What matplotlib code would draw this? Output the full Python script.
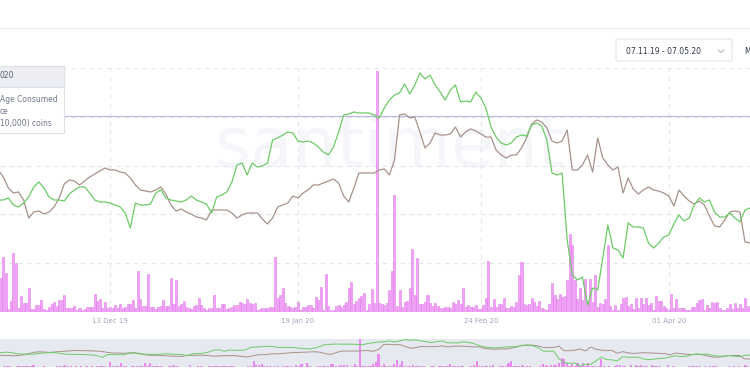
import matplotlib
matplotlib.use("Agg")
import matplotlib.pyplot as plt
import matplotlib.patches as mpatches
from matplotlib.lines import Line2D
import numpy as np
import pandas as pd

# daily series, 21 Nov 2019 .. 17 Apr 2020 (arbitrary units)
holders = [112, 112, 114, 107, 105, 109, 115, 125, 130, 124,
           115, 112, 112, 111, 118, 122, 125, 125, 119, 112,
           110, 110, 109, 107, 105, 99, 84, 109, 107, 107,
           108, 119, 122, 114, 112, 111, 110, 112, 116, 112,
           110, 108, 99, 115, 117, 120, 130, 147, 149, 137,
           149, 145, 146, 149, 172, 174, 177, 180, 179, 171,
           170, 171, 169, 165, 160, 157, 165, 180, 197, 198,
           200, 199, 199, 199, 197, 194, 204, 212, 217, 219,
           228, 218, 227, 239, 233, 237, 227, 220, 212, 222,
           227, 210, 211, 210, 220, 214, 204, 185, 175, 169,
           167, 169, 175, 177, 176, 187, 189, 186, 172, 139,
           137, 139, 72, 37, 32, 35, 7, 24, 22, 54,
           87, 64, 62, 54, 89, 85, 85, 84, 69, 64,
           69, 75, 77, 88, 97, 91, 94, 107, 114, 110,
           112, 100, 95, 95, 99, 94, 90, 102, 104]

price = [142, 135, 124, 119, 120, 112, 94, 100, 101, 98,
         100, 105, 114, 128, 132, 131, 127, 131, 135, 138,
         141, 144, 142, 142, 140, 139, 134, 127, 122, 121,
         120, 122, 125, 118, 107, 101, 103, 100, 98, 95,
         94, 92, 102, 102, 102, 102, 99, 94, 97, 99,
         99, 99, 93, 88, 94, 105, 107, 109, 116, 114,
         119, 122, 127, 127, 129, 131, 133, 129, 116, 110,
         124, 139, 139, 139, 139, 142, 143, 137, 152, 197,
         198, 194, 195, 180, 164, 169, 179, 177, 177, 178,
         185, 175, 180, 183, 181, 178, 175, 175, 162, 157,
         154, 157, 157, 164, 174, 188, 192, 190, 184, 171,
         169, 171, 182, 142, 142, 147, 157, 140, 174, 154,
         147, 142, 145, 119, 134, 123, 118, 122, 125, 122,
         121, 119, 116, 106, 122, 116, 111, 108, 111, 107,
         96, 86, 85, 92, 100, 101, 100, 70, 69]

# 12h bars
age_consumed = [34, 55, 39, 3, 11, 59, 49, 4, 16, 9, 9, 24, 3, 3, 7, 7, 12, 3, 2, 5,
                8, 10, 6, 12, 12, 17, 4, 4, 4, 6, 2, 4, 2, 3, 5, 5, 5, 18, 11, 13,
                4, 10, 4, 5, 4, 7, 4, 8, 4, 5,
                8, 8, 12, 4, 41, 13, 6, 6, 38, 5, 5, 3, 5, 6, 12, 6, 6, 34, 8, 32,
                6, 8, 11, 5, 4, 3, 6, 7, 14, 7, 4, 2, 4, 4, 17, 4, 4, 8, 8, 3,
                4, 5, 7, 7, 10, 9, 8, 13, 9,
                8, 9, 2, 3, 4, 4, 4, 5, 5, 55, 14, 17, 24, 9, 6, 5, 4, 5, 10, 2,
                5, 5, 7, 7, 4, 15, 12, 25, 2, 38, 6, 2, 2, 6, 7, 5, 7, 10, 24, 30,
                8, 11, 14, 16, 19, 2, 8, 23, 9,
                241, 9, 8, 7, 9, 22, 41, 117, 6, 22, 5, 10, 11, 24, 63, 17, 54, 8, 8, 10,
                17, 9, 6, 9, 6, 4, 4, 5, 5, 4, 10, 8, 12, 8, 24, 5, 7, 5, 5, 7,
                3, 3, 7, 14, 51, 5, 13, 5, 8,
                8, 14, 4, 4, 6, 5, 10, 37, 50, 8, 7, 8, 14, 10, 6, 11, 4, 3, 2, 8,
                29, 17, 13, 18, 15, 16, 32, 78, 67, 32, 13, 24, 12, 33, 10, 33, 10, 37, 5, 9,
                8, 13, 67, 6, 2, 7, 2, 8, 14,
                15, 6, 8, 3, 14, 4, 14, 8, 14, 7, 9, 2, 16, 11, 11, 6, 4, 2, 18, 4,
                13, 4, 4, 4, 2, 2, 5, 5, 9, 12, 13, 2, 7, 4, 10, 9, 10, 4, 2, 2,
                4, 8, 3, 9, 4, 8, 4, 14, 6]

tick_dates = ["2019-12-13", "2020-01-19", "2020-02-24", "2020-04-01"]
tick_labels = ["13 Dec 19", "19 Jan 20", "24 Feb 20", "01 Apr 20"]

W, H = 750, 375
TOP = 244


def fbox(x0, y0, x1, y1):
    return [x0 / W, 1 - y1 / H, (x1 - x0) / W, (y1 - y0) / H]


def fxy(x, y):
    return x / W, 1 - y / H


days = pd.date_range("2019-11-21", periods=len(holders), freq="D")
bar_times = pd.date_range("2019-11-21 12:00", periods=len(age_consumed), freq="12h")
ref = pd.Timestamp("2019-12-13")
main_lim = (ref - pd.Timedelta(days=21.65), ref + pd.Timedelta(days=125.98))
nav_lim = (ref - pd.Timedelta(days=15.3), ref + pd.Timedelta(days=126.0))

fig = plt.figure(figsize=(7.5, 3.75), dpi=100)

# main chart
ax_bar = fig.add_axes(fbox(0, 68, 750, 312))
ax = fig.add_axes(fbox(0, 68, 750, 312), sharex=ax_bar)
ax.patch.set_visible(False)

ax_bar.text(390 / W, 1 - 167 / H, "santiment", transform=fig.transFigure,
            fontsize=50, color="#f5f6fa", ha="center", va="baseline", zorder=0.1)
ax_bar.bar(bar_times, age_consumed, width=0.4, color="#f0a0f6",
           edgecolor="#e07fea", linewidth=0.4, zorder=2)
ax.axhline(196, color="#b9bde3", lw=0.9)
ax.plot(days, price, color="#a8918a", lw=0.9)
ax.plot(days, holders, color="#6ccb66", lw=0.9)

for a in (ax_bar, ax):
    a.set_ylim(0, TOP)
    for s in a.spines.values():
        s.set_visible(False)
ax_bar.set_xlim(*main_lim)
ax_bar.set_yticks(np.linspace(0, TOP, 6))
ax_bar.set_yticklabels([])
ax_bar.set_xticks(pd.to_datetime(tick_dates))
ax_bar.set_xticklabels(tick_labels)
ax_bar.tick_params(length=0, labelsize=5, labelcolor="#9ea7bd", pad=4)
ax_bar.grid(True, color="#e3e5eb", ls=(0, (4, 4)), lw=0.8, zorder=0.5)
ax.tick_params(labelbottom=False, labelleft=False, length=0)
ax.set_yticks([])

# navigator strip
ax_nav = fig.add_axes(fbox(0, 339, 750, 367))
ax_nav.set_facecolor("#e7e9f1")
ax_nav.bar(bar_times, age_consumed, width=0.4, color="#e98af0", linewidth=0)
ax_nav.plot(days, price, color="#a8918a", lw=0.7)
ax_nav.plot(days, holders, color="#6ccb66", lw=0.7)
ax_nav.set_xlim(*nav_lim)
ax_nav.set_ylim(0, TOP)
ax_nav.set_xticks([])
ax_nav.set_yticks([])
for s in ax_nav.spines.values():
    s.set_visible(False)

# header line and date picker
fig.add_artist(Line2D([0, 1], [1 - 28 / H] * 2, transform=fig.transFigure,
                      color="#e9eaef", lw=0.8))
fig.add_artist(mpatches.FancyBboxPatch(fxy(616, 61), 116 / W, 22 / H,
                                       boxstyle="round,pad=0,rounding_size=0.004",
                                       transform=fig.transFigure, fc="white",
                                       ec="#e1e3ea", lw=0.8))
fig.text(*fxy(663, 51), "07.11.19 - 07.05.20", fontsize=5.5, color="#2f364c",
         ha="center", va="center")
fig.add_artist(Line2D([718 / W, 721 / W, 724 / W], [1 - 50 / H, 1 - 52.5 / H, 1 - 50 / H],
                      transform=fig.transFigure, color="#a0a6b8", lw=0.6))
fig.text(*fxy(744, 51), "M", fontsize=5.5, color="#2f364c", va="center")

# tooltip
fig.add_artist(mpatches.Rectangle(fxy(-2, 133), 66 / W, 67 / H, transform=fig.transFigure,
                                  fc="white", ec="#dde0e8", lw=0.8, zorder=5))
fig.add_artist(mpatches.Rectangle(fxy(-2, 87), 66 / W, 21 / H, transform=fig.transFigure,
                                  fc="#eceef4", ec="#dde0e8", lw=0.8, zorder=5))
fig.text(*fxy(0, 76), "020", fontsize=5.5, color="#5d6378", va="center", zorder=6)
for label, yy in [("Age Consumed", 99), ("ce", 111), ("10,000) coins", 123)]:
    fig.text(*fxy(0, yy), label, fontsize=5.5, color="#6f758a", va="center", zorder=6)

fig.savefig("out.png", dpi=100)
